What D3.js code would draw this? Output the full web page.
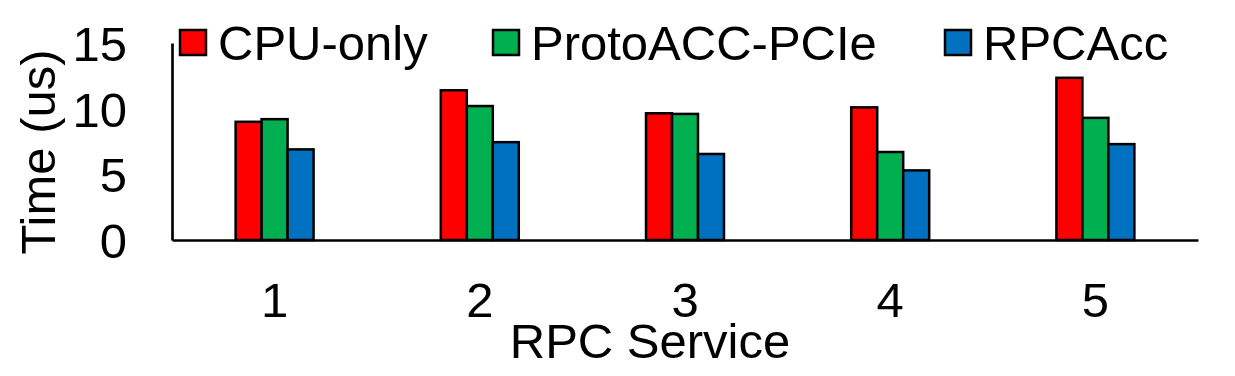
<!DOCTYPE html>
<html>
<head>
<meta charset="utf-8">
<script src="https://cdn.jsdelivr.net/npm/d3@7"></script>
<style>
  body { margin: 0; background: #fff; }
  text { font-family: "Liberation Sans", Arial, sans-serif; fill: #000; }
</style>
</head>
<body>
<script>
// data
let services = ['1', '2', '3', '4', '5'];
let seriesNames = ['CPU-only', 'ProtoACC-PCIe', 'RPCAcc'];
let cpuOnly = [9.0, 11.4, 9.65, 10.1, 12.35];
let protoAcc = [9.2, 10.2, 9.6, 6.7, 9.3];
let rpcAcc = [6.9, 7.45, 6.55, 5.3, 7.3];
let yTicks = [0, 5, 10, 15];
let colors = ['#FF0000', '#00B050', '#0070C0'];

let w = 1235, h = 376;
let padL = 172, padR = 1198, padT = 43, padB = 240;
let fs = 49;

let svg = d3.select('body')
    .append('svg')
    .attr('width', w)
    .attr('height', h)

let table = services.map((s, i) => ({
    service: s,
    values: [cpuOnly[i], protoAcc[i], rpcAcc[i]]
}));

let x0 = d3.scaleBand()
    .domain(services)
    .range([padL, padR])
    .paddingInner(0.62)
    .paddingOuter(0.31)

let x1 = d3.scaleBand()
    .domain(seriesNames)
    .range([0, x0.bandwidth()])

let y = d3.scaleLinear()
    .domain([0, 15])
    .range([padB, padT])

let color = d3.scaleOrdinal().domain(seriesNames).range(colors);

// bars
let groups = svg.selectAll('g.group')
    .data(table)
    .enter()
    .append('g')
    .attr('class', 'group')
    .attr('transform', d => `translate(${x0(d.service)},0)`)

groups.selectAll('rect')
    .data(d => d.values.map((v, j) => ({ name: seriesNames[j], value: v })))
    .enter()
    .append('rect')
    .attr('x', d => x1(d.name))
    .attr('y', d => y(d.value))
    .attr('width', x1.bandwidth())
    .attr('height', d => y(0) - y(d.value))
    .attr('fill', d => color(d.name))
    .attr('stroke', '#000')
    .attr('stroke-width', 2.5)

// y axis
let yAxis = svg.append('g')
    .attr('transform', `translate(${padL},0)`)
    .call(d3.axisLeft(y).tickValues(yTicks).tickSize(0).tickSizeOuter(0).tickPadding(45))
yAxis.select('.domain').attr('stroke', '#000').attr('stroke-width', 2.7)
yAxis.selectAll('text')
    .style('font-size', fs + 'px')
    .attr('font-family', null)
    .attr('dy', '0.36em')

// x axis
let xAxis = svg.append('g')
    .attr('transform', `translate(0,${padB})`)
    .call(d3.axisBottom(x0).tickSize(0).tickSizeOuter(0))
xAxis.select('.domain').attr('stroke', '#000').attr('stroke-width', 2.7)
xAxis.selectAll('text')
    .style('font-size', fs + 'px')
    .attr('font-family', null)
    .attr('y', 77)
    .attr('dy', 0)

// axis titles
svg.append('text')
    .text('RPC Service')
    .attr('x', 650)
    .attr('y', 358)
    .style('text-anchor', 'middle')
    .style('font-size', fs + 'px')

svg.append('text')
    .text('Time (us)')
    .attr('transform', `translate(55,152) rotate(-90)`)
    .style('text-anchor', 'middle')
    .style('font-size', fs + 'px')

// legend
let legendX = [180, 493, 945];
let legend = svg.selectAll('g.legend')
    .data(seriesNames)
    .enter()
    .append('g')
    .attr('class', 'legend')
    .attr('transform', (d, i) => `translate(${legendX[i]},30)`)

legend.append('rect')
    .attr('width', 26)
    .attr('height', 25)
    .attr('fill', d => color(d))
    .attr('stroke', '#000')
    .attr('stroke-width', 2.5)

legend.append('text')
    .text(d => d)
    .attr('x', 38)
    .attr('y', 30)
    .style('font-size', fs + 'px')
</script>
</body>
</html>
